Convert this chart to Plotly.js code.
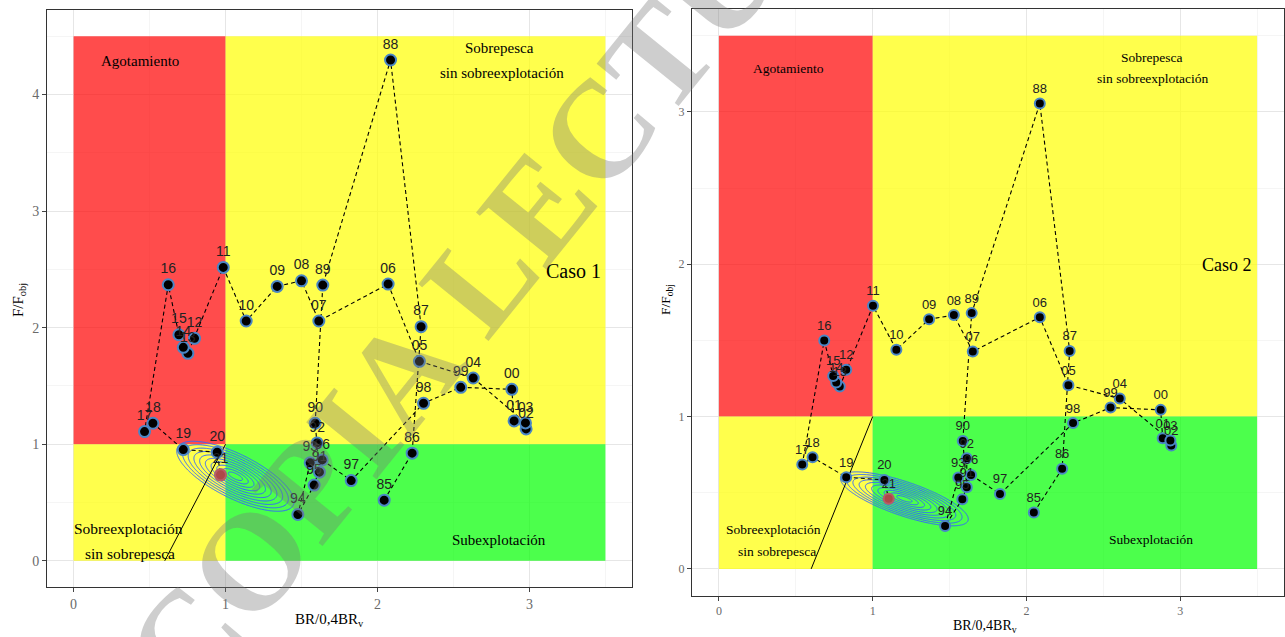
<!DOCTYPE html>
<html>
<head>
<meta charset="utf-8">
<script src="https://cdn.plot.ly/plotly-3.0.1.min.js"></script>
<style>html,body{margin:0;padding:0;background:#fff}#chart{width:1285px;height:637px}</style>
</head>
<body>
<div id="chart"></div>
<script>
// ---- data ----
const years = ["85","86","87","88","89","90","91","92","93","94","95","96","97","98","99","00","01","02","03","04","05","06","07","08","09","10","11","12","13","14","15","16","17","18","19","20","21"];
const caso1X = [2.044,2.228,2.287,2.086,1.640,1.590,1.618,1.603,1.557,1.476,1.583,1.636,1.827,2.303,2.548,2.884,2.899,2.978,2.974,2.630,2.276,2.070,1.614,1.500,1.340,1.136,0.985,0.796,0.752,0.722,0.693,0.623,0.467,0.522,0.722,0.945,0.967];
const caso1Y = [0.520,0.923,2.008,4.296,2.365,1.180,0.760,1.011,0.840,0.397,0.649,0.865,0.688,1.351,1.488,1.471,1.200,1.131,1.183,1.568,1.711,2.374,2.057,2.402,2.354,2.057,2.517,1.908,1.780,1.831,1.939,2.368,1.108,1.180,0.954,0.931,0.737];
const caso2X = [2.048,2.232,2.281,2.087,1.644,1.586,1.612,1.612,1.557,1.471,1.583,1.640,1.828,2.303,2.547,2.873,2.886,2.942,2.936,2.607,2.273,2.087,1.651,1.528,1.367,1.154,1.002,0.828,0.786,0.763,0.743,0.685,0.542,0.609,0.828,1.076,1.104];
const caso2Y = [0.370,0.657,1.431,3.055,1.679,0.840,0.536,0.727,0.600,0.282,0.458,0.617,0.492,0.957,1.059,1.044,0.858,0.810,0.843,1.118,1.206,1.652,1.427,1.666,1.639,1.438,1.727,1.307,1.197,1.223,1.267,1.499,0.685,0.733,0.602,0.584,0.460];
// reference line
const limX = [0.6, 1.0];
const limY = [0, 1];
// uncertainty ellipse of last year: [meanX, meanY, sdX, sdY, rho]
const ell1 = [1.065, 0.725, 0.157, 0.122, -0.72];
const ell2 = [1.206, 0.46, 0.169, 0.072, -0.75];
// zones
const yTop1 = 4.5, yTop2 = 3.5;

function radiusGrid(p){
  const [mx,my,sx,sy,r]=p; const xs=[],ys=[],z=[];
  for(let i=0;i<=160;i++) xs.push(mx-3.2*sx+i*6.4*sx/160);
  for(let j=0;j<=160;j++) ys.push(my-3.2*sy+j*6.4*sy/160);
  for(const y of ys){const row=[];for(const x of xs){const a=(x-mx)/sx,b=(y-my)/sy;
    row.push(Math.sqrt((a*a-2*r*a*b+b*b)/(1-r*r)));}z.push(row);}
  return {x:xs,y:ys,z:z};
}
function panel(X,Y,xa,ya,ell,ms,fs){
  const g=radiusGrid(ell);
  return [
    {type:'scatter',x:limX,y:limY,xaxis:xa,yaxis:ya,mode:'lines',line:{color:'#000',width:1},hoverinfo:'skip'},
    {type:'contour',x:g.x,y:g.y,z:g.z,xaxis:xa,yaxis:ya,showscale:false,contours:{coloring:'none',start:0.3,end:2.46,size:0.24},line:{color:'#3366FF',width:1},hoverinfo:'skip'},
    {type:'scatter',x:X,y:Y,xaxis:xa,yaxis:ya,mode:'lines',line:{color:'#000',width:1.1,dash:'4px,3px'},hoverinfo:'skip'},
    {type:'scatter',x:X,y:Y,xaxis:xa,yaxis:ya,mode:'markers+text',text:years,textposition:'top center',
     textfont:{family:'Liberation Sans, Arial',size:fs,color:'#222'},
     marker:{color:'#000',size:ms,line:{color:'#4A86C5',width:2}},hoverinfo:'skip'},
    {type:'scatter',x:[X[X.length-1]],y:[Y[Y.length-1]],xaxis:xa,yaxis:ya,mode:'markers',
     marker:{color:'rgba(205,85,85,0.85)',size:ms+2,line:{width:0}},hoverinfo:'skip'}
  ];
}
const data=[...panel(caso1X,caso1Y,'x','y',ell1,11,14),...panel(caso2X,caso2Y,'x2','y2',ell2,10,13)];

function zones(xr,yr,top){
  const c={r:'rgba(255,0,0,0.7)',y:'rgba(255,255,0,0.7)',g:'rgba(0,255,0,0.7)'};
  const mk=(x0,x1,y0,y1,col)=>({type:'rect',xref:xr,yref:yr,x0,x1,y0,y1,fillcolor:col,line:{width:0},layer:'between'});
  return [mk(0,1,1,top,c.r),mk(1,3.5,1,top,c.y),mk(0,1,0,1,c.y),mk(1,3.5,0,1,c.g)];
}
const W=1285,H=637;
const P=(x,y,text,size,extra)=>Object.assign({xref:'paper',yref:'paper',x:x/W,y:1-y/H,text,showarrow:false,
  font:{family:'Liberation Serif, Times New Roman',size,color:'#000'},xanchor:'center',yanchor:'middle'},extra||{});
const annotations=[
  P(140,61,'Agotamiento',15),
  P(499,48,'Sobrepesca',15),P(502,73,'sin sobreexplotación',15),
  P(573,271,'Caso 1',20),
  P(128,528,'Sobreexplotación',15.5),P(130,553,'sin sobrepesca',15.5),
  P(499,540,'Subexplotación',15),
  P(788,68,'Agotamiento',13.5),
  P(1151,57,'Sobrepesca',13.5),P(1153,78,'sin sobreexplotación',13.5),
  P(1227,265,'Caso 2',18),
  P(773,529,'Sobreexplotación',13.5),P(777,551,'sin sobrepesca',13.5),
  P(1151,539,'Subexplotación',13.5),
  P(19,300,'F/F<sub>obj</sub>',15,{textangle:-90}),
  P(330,620,'BR/0,4BR<sub>v</sub>',15),
  P(666,300,'F/F<sub>obj</sub>',13.5,{textangle:-90}),
  P(985,626,'BR/0,4BR<sub>v</sub>',14),
  P(515,235,'<b>COPIA LECTURA</b>',138,{textangle:-51,font:{family:'Liberation Serif',size:138,color:'rgba(120,120,120,0.36)'}})
];
function ax(domain,range,anchor,fs){
  return {domain,range,anchor,dtick:1,tick0:0,showgrid:true,gridcolor:'#E6E6E6',gridwidth:1,
    minor:{dtick:0.5,showgrid:true,gridcolor:'#EFEFEF',gridwidth:0.6,ticklen:0},
    zeroline:false,showline:true,mirror:true,linecolor:'#333',linewidth:1,ticks:'outside',ticklen:4,tickcolor:'#444',
    tickfont:{family:'Liberation Serif, Times New Roman',size:fs,color:'#6a6a6a'},automargin:false,fixedrange:true};
}
const layout={
  width:W,height:H,margin:{l:0,r:0,t:0,b:0},paper_bgcolor:'#fff',plot_bgcolor:'#fff',showlegend:false,
  xaxis:ax([47/W,632/W],[-0.175,3.675],'y',14),
  yaxis:ax([1-587/H,1-10/H],[-0.225,4.725],'x',14),
  xaxis2:ax([692/W,1284/W],[-0.175,3.675],'y2',12),
  yaxis2:ax([1-595.6/H,1-9/H],[-0.175,3.675],'x2',12),
  shapes:[...zones('x','y',yTop1),...zones('x2','y2',yTop2)],
  annotations
};
Plotly.newPlot('chart',data,layout,{displayModeBar:false,staticPlot:true});
</script>
</body>
</html>
